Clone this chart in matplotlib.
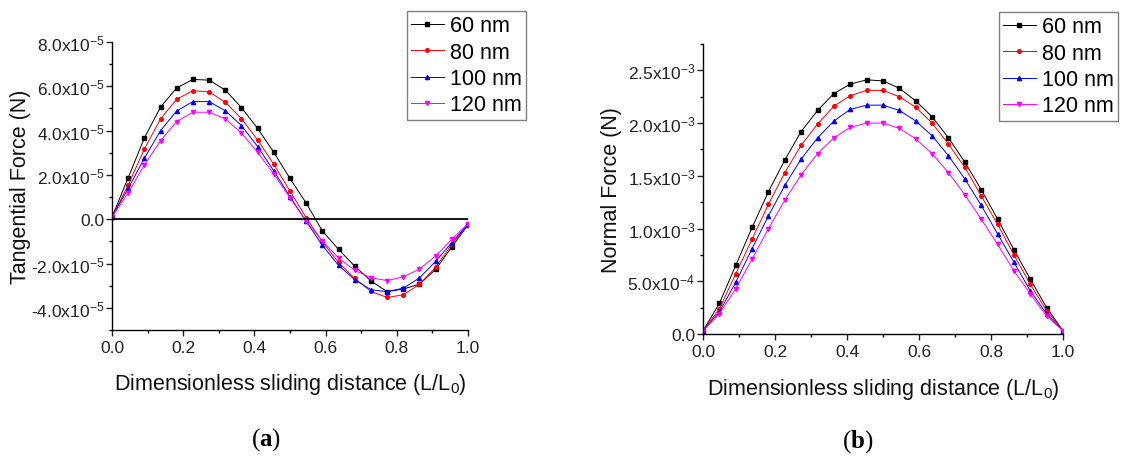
import numpy as np
import matplotlib
matplotlib.use("Agg")
import matplotlib.pyplot as plt
from matplotlib.ticker import MultipleLocator, FuncFormatter

plt.rcParams['font.family'] = ['Liberation Sans', 'DejaVu Sans']
plt.rcParams['mathtext.fontset'] = 'custom'
plt.rcParams['mathtext.rm'] = 'Liberation Sans'
plt.rcParams['mathtext.it'] = 'Liberation Sans:italic'
plt.rcParams['mathtext.bf'] = 'Liberation Serif:bold'

# sliding distance grid (23 samples)
x = np.linspace(0, 1, 23)
labels = ["60 nm", "80 nm", "100 nm", "120 nm"]

# (a) tangential force, in units of 1e-5 N
tan_60 = [0.1, 1.87, 3.67, 5.06, 5.93, 6.31, 6.28, 5.83, 5.04, 4.1, 3.02, 1.84,
          0.73, -0.53, -1.36, -2.12, -2.78, -3.27, -3.15, -2.93, -2.26, -1.25, -0.25]
tan_80 = [0.1, 1.54, 3.17, 4.53, 5.42, 5.8, 5.75, 5.28, 4.54, 3.58, 2.48, 1.27,
          0.07, -1.02, -1.95, -2.67, -3.26, -3.53, -3.41, -2.94, -2.16, -1.13, -0.25]
tan_100 = [0.1, 1.39, 2.75, 4.0, 4.89, 5.31, 5.31, 4.9, 4.23, 3.28, 2.18, 1.02,
           -0.1, -1.18, -2.08, -2.73, -3.18, -3.27, -3.11, -2.65, -1.9, -1.05, -0.22]
tan_120 = [0.1, 1.19, 2.45, 3.55, 4.41, 4.83, 4.83, 4.53, 3.89, 3.02, 2.04, 0.97,
           -0.09, -0.98, -1.75, -2.31, -2.64, -2.77, -2.6, -2.25, -1.66, -0.9, -0.2]

# (b) normal force, in units of 1e-3 N
nor_60 = [0.03, 0.29, 0.65, 1.01, 1.35, 1.65, 1.92, 2.12, 2.28, 2.37, 2.41, 2.40,
          2.33, 2.21, 2.06, 1.86, 1.63, 1.37, 1.09, 0.80, 0.52, 0.25, 0.03]
nor_80 = [0.03, 0.24, 0.57, 0.90, 1.23, 1.53, 1.79, 1.99, 2.16, 2.26, 2.31, 2.31,
          2.25, 2.15, 2.0, 1.80, 1.58, 1.31, 1.04, 0.75, 0.47, 0.22, 0.03]
nor_100 = [0.03, 0.21, 0.49, 0.81, 1.12, 1.41, 1.66, 1.86, 2.02, 2.13, 2.17, 2.17,
           2.12, 2.02, 1.88, 1.69, 1.47, 1.22, 0.95, 0.68, 0.41, 0.19, 0.03]
nor_120 = [0.03, 0.19, 0.43, 0.71, 1.0, 1.27, 1.51, 1.71, 1.86, 1.96, 2.0, 2.0,
           1.95, 1.85, 1.71, 1.53, 1.32, 1.09, 0.85, 0.60, 0.38, 0.17, 0.03]

colors = ['#000000', '#ff0000', '#0000ff', '#ff00ff']
markers = ['s', 'o', '^', 'v']
msizes = [2.4, 2.6, 3.0, 3.0]


def sci_fmt(v, pos):
    if abs(v) < 1e-12:
        return "0.0"
    e = int(np.floor(np.log10(abs(v)) + 1e-9))
    m = v / 10 ** e
    return f"{m:.1f}x10$^{{{e}}}$"


fig = plt.figure(figsize=(11.21, 4.6), dpi=100)
ax1 = fig.add_axes([0.0999, 0.2804, 0.3176, 0.6261])
ax2 = fig.add_axes([0.6271, 0.2717, 0.3212, 0.6305])

series_a = [tan_60, tan_80, tan_100, tan_120]
series_b = [nor_60, nor_80, nor_100, nor_120]

for ax, series, scale in [(ax1, series_a, 1e-5), (ax2, series_b, 1e-3)]:
    for ys, c, mk, ms, lab in zip(series, colors, markers, msizes, labels):
        ax.plot(x, np.array(ys) * scale, color=c, lw=0.7, marker=mk, ms=ms,
                mec=c, mfc=c, label=lab)
    ax.spines['top'].set_visible(False)
    ax.spines['right'].set_visible(False)
    ax.spines['left'].set_linewidth(1)
    ax.spines['bottom'].set_linewidth(1)
    ax.set_xlim(0, 1)
    ax.xaxis.set_major_locator(MultipleLocator(0.2))
    ax.xaxis.set_minor_locator(MultipleLocator(0.1))
    ax.xaxis.set_major_formatter(FuncFormatter(lambda v, p: f"{v:.1f}"))
    ax.yaxis.set_major_formatter(FuncFormatter(sci_fmt))
    ax.tick_params(which='major', direction='out', length=4, width=1,
                   labelsize=12.5, pad=1.5, colors='#222222', labelcolor='#222222')
    ax.tick_params(axis='x', which='major', pad=3)
    ax.tick_params(which='minor', direction='out', length=2, width=1)
    ax.set_xlabel("Dimensionless sliding distance (L/L$_0$)", fontsize=15.5,
                  color='#111111')

ax1.axhline(0, color='k', lw=1.3)
ax1.set_ylim(-5e-5, 8e-5)
ax1.yaxis.set_major_locator(MultipleLocator(2e-5))
ax1.yaxis.set_minor_locator(MultipleLocator(1e-5))
ax1.set_ylabel("Tangential Force (N)", fontsize=15.5, color='#111111')
ax1.yaxis.set_label_coords(-0.228, 0.5)
ax1.xaxis.set_label_coords(0.5, -0.142)

ax2.set_ylim(0, 2.75e-3)
ax2.yaxis.set_major_locator(MultipleLocator(5e-4))
ax2.yaxis.set_minor_locator(MultipleLocator(2.5e-4))
ax2.set_ylabel("Normal Force (N)", fontsize=15.5, color='#111111')
ax2.yaxis.set_label_coords(-0.226, 0.5)
ax2.xaxis.set_label_coords(0.5, -0.145)

for ax, anchor in [(ax1, (407 / 1121, 1 - 12 / 460)), (ax2, (999 / 1121, 1 - 13 / 460))]:
    leg = ax.legend(loc='upper left', bbox_to_anchor=anchor,
                    bbox_transform=fig.transFigure, fontsize=15.5,
                    frameon=True, fancybox=False, edgecolor='#808080',
                    framealpha=1, borderpad=0.2, labelspacing=0.25,
                    handlelength=1.5, handletextpad=0.3, borderaxespad=0)
    leg.get_frame().set_linewidth(1.0)

fig.text(266 / 1121, 1 - 440 / 460, r"($\mathbf{a}$)", family='Liberation Serif',
         fontsize=18, ha='center', va='center')
fig.text(858 / 1121, 1 - 442 / 460, r"($\mathbf{b}$)", family='Liberation Serif',
         fontsize=18, ha='center', va='center')

fig.savefig("out.png", dpi=100)
